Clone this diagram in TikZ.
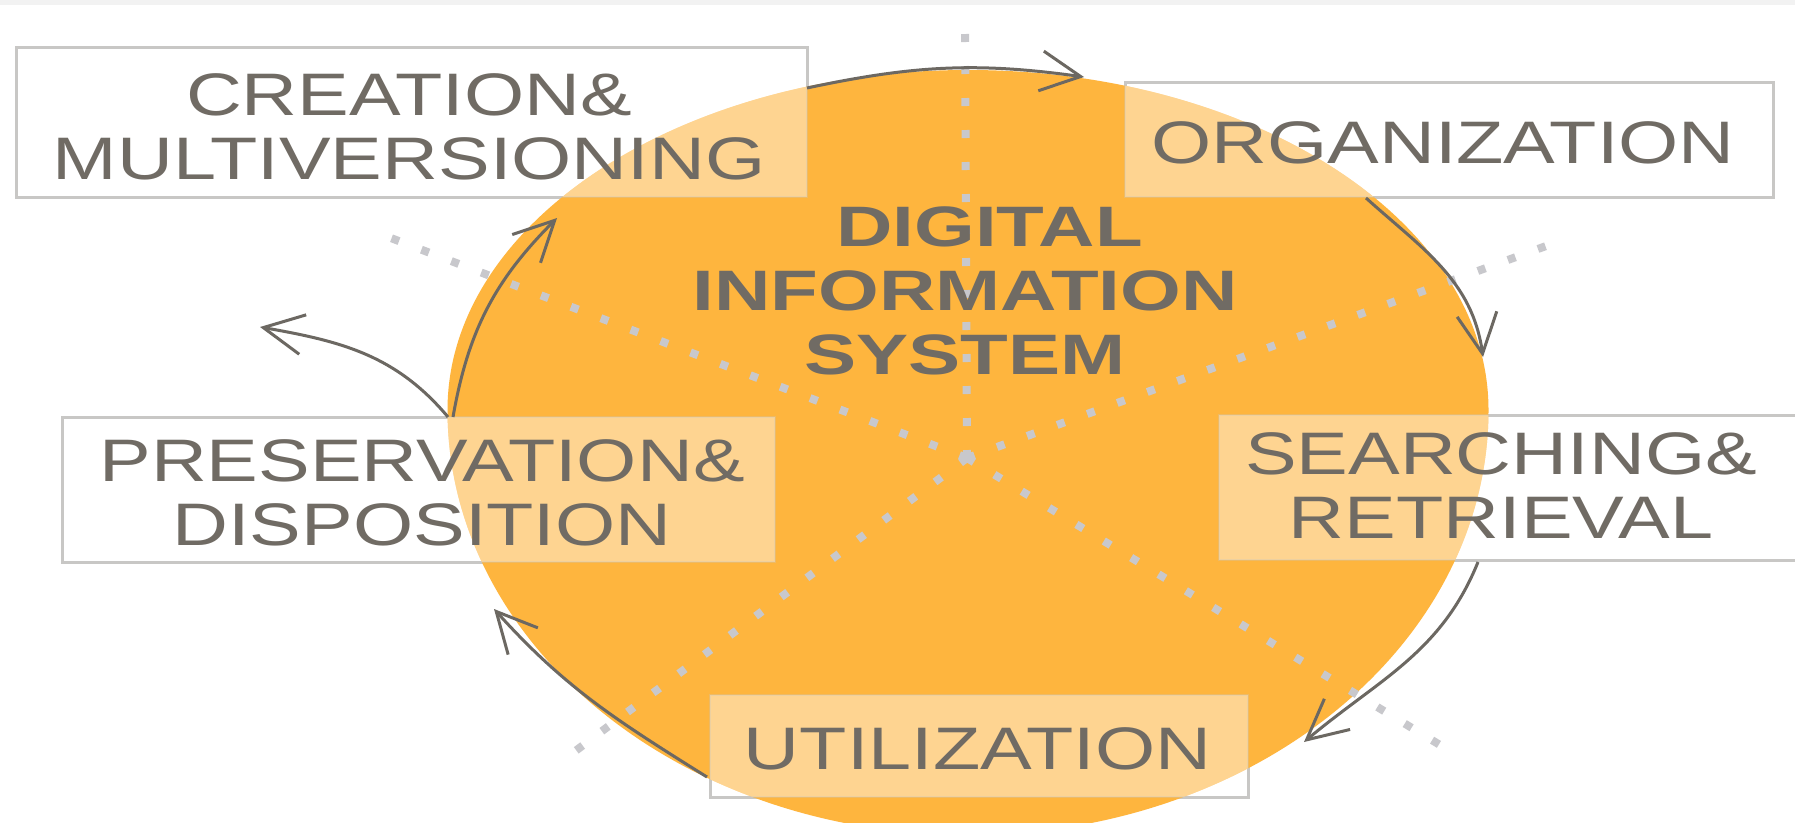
\documentclass[tikz,border=0pt]{standalone}
\usepackage{fontspec}
\setmainfont{Liberation Sans}
\usepackage{graphicx}
\usetikzlibrary{arrows.meta}
\definecolor{orangefill}{RGB}{254,181,62}
\definecolor{txtgray}{RGB}{112,107,100}
\definecolor{arrgray}{RGB}{108,104,98}
\definecolor{boxline}{RGB}{200,199,197}
\definecolor{dotgray}{RGB}{200,200,204}
\newcommand{\wideA}[1]{\scalebox{1.29}[1]{#1}}
\newcommand{\wideB}[1]{\scalebox{1.37}[1]{#1}}
\newcommand{\eggpath}{(447.5,-410) arc[start angle=180,end angle=0,x radius=520.5,y radius=340] arc[start angle=0,end angle=-180,x radius=520.5,y radius=425] -- cycle}
\begin{document}
\begin{tikzpicture}[x=1pt,y=1pt,
  frame/.style={draw=boxline, line width=3pt, fill=white, rectangle, inner sep=0pt, outer sep=0pt},
  veil/.style={fill=white, fill opacity=0.43, draw=boxline, draw opacity=0.3, line width=2pt},
  lbl/.style={font=\fontsize{60}{64}\selectfont, text=txtgray, align=center, inner sep=0pt},
  spoke/.style={draw=dotgray, line width=8pt, dash pattern=on 8pt off 24pt},
  cyc/.style={draw=arrgray, line width=3pt, -{Straight Barb[length=40pt,width=40pt]}}]

\useasboundingbox (0,0) rectangle (1795,-822);
\fill[white] (0,0) rectangle (1795,-822);
\fill[gray!10] (0,0) rectangle (1795,-5);

% box frames
\node[frame, minimum width=791pt, minimum height=150pt] (creationBox) at (411.5,-122) {};
\node[frame, minimum width=648pt, minimum height=115pt] (organizationBox) at (1449,-139.5) {};
\node[frame, minimum width=713pt, minimum height=145pt] (preservationBox) at (418.5,-489.5) {};
\node[frame, minimum width=611pt, minimum height=145pt] (searchingBox) at (1524.5,-487.5) {};
\node[frame, minimum width=538pt, minimum height=102pt] (utilizationBox) at (979,-746) {};

% orange disc
\fill[orangefill] \eggpath;

% dotted spokes
\coordinate (hub) at (967,-458);
\coordinate (spU) at (965,-14);
\coordinate (spUL) at (383,-235);
\coordinate (spUR) at (1557,-242);
\coordinate (spLL) at (566,-758);
\coordinate (spLR) at (1440,-745);
\draw[spoke] (hub) -- (spU);
\draw[spoke] (hub) -- (spUL);
\draw[spoke] (hub) -- (spUR);
\draw[spoke] (hub) -- (spLL);
\draw[spoke] (hub) -- (spLR);

% light veils of the boxes over the disc
\begin{scope}
\clip \eggpath;
\draw[veil] (creationBox.south west) rectangle (creationBox.north east);
\draw[veil] (organizationBox.south west) rectangle (organizationBox.north east);
\draw[veil] (preservationBox.south west) rectangle (preservationBox.north east);
\draw[veil] (searchingBox.south west) rectangle (searchingBox.north east);
\draw[veil] (utilizationBox.south west) rectangle (utilizationBox.north east);
\end{scope}

% labels
\node[lbl] (creation) at (409,-126.5) {\wideA{CREATION\&}\\\wideA{MULTIVERSIONING}};
\node[lbl] (organization) at (1443,-142.5) {\wideA{ORGANIZATION}};
\node[lbl] (preservation) at (422,-492.5) {\wideA{PRESERVATION\&}\\\wideA{DISPOSITION}};
\node[lbl] (searching) at (1501,-485.5) {\wideA{SEARCHING\&}\\\wideA{RETRIEVAL}};
\node[lbl] (utilization) at (977.5,-749) {\wideA{UTILIZATION}};
\node[lbl, font=\fontsize{57}{64}\selectfont\bfseries] (dis) at (965,-291)
  {\wideB{\hspace*{36pt}DIGITAL}\\\wideB{INFORMATION}\\\wideB{SYSTEM}};

% cycle arrows
\coordinate (aS) at (807,-88);   \coordinate (aE) at (1084,-77);
\coordinate (bS) at (1366,-198); \coordinate (bE) at (1483,-357);
\coordinate (cS) at (1478,-562); \coordinate (cE) at (1304,-742);
\coordinate (dS) at (707,-777);  \coordinate (dE) at (494,-609);
\coordinate (eS) at (453,-417);  \coordinate (eE) at (557,-218);
\coordinate (fS) at (448,-417);  \coordinate (fE) at (260,-327);
\draw[cyc] (aS) to[out=12,in=172] (aE);
\draw[cyc] (bS) to[out=-42,in=98] (bE);
\draw[cyc] (cS) to[out=-112,in=40] (cE);
\draw[cyc] (dS) to[out=148,in=-48] (dE);
\draw[cyc] (eS) to[out=80,in=-135] (eE);
\draw[cyc] (fS) to[out=130,in=-10] (fE);
\end{tikzpicture}
\end{document}
